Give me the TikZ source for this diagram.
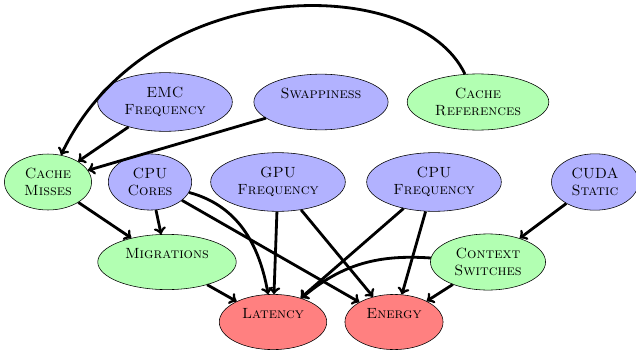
\documentclass[tikz,border=0pt]{standalone}
\usetikzlibrary{shapes.geometric}

\begin{document}
\begin{tikzpicture}[
  var/.style={ellipse,draw,align=center,inner xsep=5pt,inner ysep=4pt,
    font=\fontsize{10.5}{12.6}\selectfont\scshape},
  param/.style={var,fill=blue!30},
  counter/.style={var,fill=green!30},
  metric/.style={var,fill=red!50},
  edge/.style={->,line width=2pt}
  ]
  \useasboundingbox (0,0) rectangle (15.9,8.85);
  \foreach \n/\x/\y/\t in {
    emc/4.125/6.3/{EMC\\Frequency},
    swap/8.025/6.3/{Swappiness\\~},
    cores/3.75/4.3/{CPU\\Cores},
    gpu/6.95/4.3/{GPU\\Frequency},
    cpu/10.85/4.3/{CPU\\Frequency},
    cuda/14.875/4.3/{CUDA\\Static}%
  }
  {\node[param] (\n) at (\x,\y) {\t};}
  \foreach \n/\x/\y/\t in {
    refs/11.95/6.3/{Cache\\References},
    misses/1.2/4.3/{Cache\\Misses},
    migr/4.175/2.3/{Migrations\\~},
    ctx/12.2/2.3/{Context\\Switches}%
  }
  {\node[counter] (\n) at (\x,\y) {\t};}
  \node[metric] (lat) at (6.825,0.8) {Latency\\~};
  \node[metric] (energy) at (9.85,0.8) {Energy\\~};
  \foreach \a/\b in {
    emc/misses,
    swap/misses,
    misses/migr,
    cores/migr,
    cores/energy,
    migr/lat,
    gpu/lat,
    gpu/energy,
    cpu/lat,
    cpu/energy,
    cuda/ctx,
    ctx/energy%
  }
  {\draw[edge] (\a) -- (\b);}
  \draw[edge] (refs) .. controls +(-1.5,3.2) and +(2.55,5.3) .. (misses);
  \draw[edge] (cores) to[out=-15,in=100] (lat);
  \draw[edge] (ctx) to[out=176,in=40] (lat);
\end{tikzpicture}
\end{document}
